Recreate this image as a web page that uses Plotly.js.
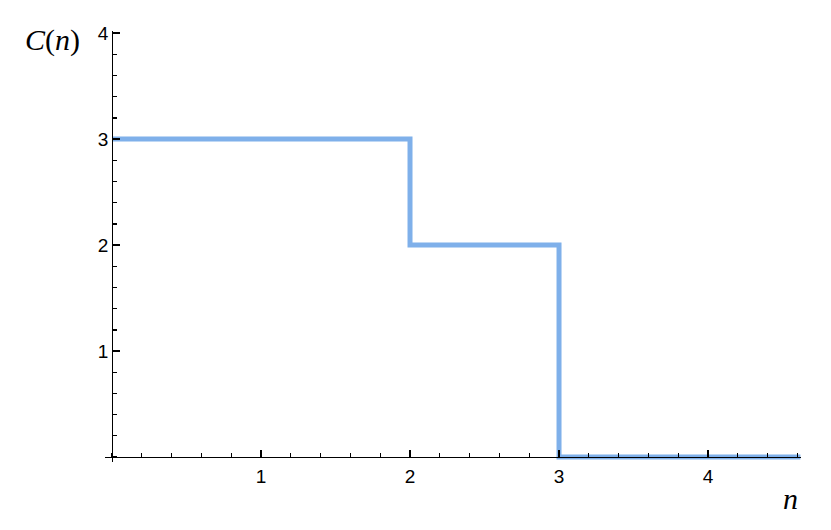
<!DOCTYPE html>
<html>
<head>
<meta charset="utf-8">
<script src="https://cdn.plot.ly/plotly-3.0.1.min.js"></script>
<style>
  html, body { margin: 0; padding: 0; background: #fff; }
  #chart { width: 831px; height: 530px; }
</style>
</head>
<body>
<div id="chart"></div>
<script>
// step function C(n)
const nValues = [0, 2, 3, 4.62];
const cValues = [3, 2, 0, 0];
const xTickVals = [1, 2, 3, 4];
const yTickVals = [1, 2, 3, 4];

const xRange = [-0.047, 4.624];
const yRange = [-0.047, 4.02];

const trace = {
    x: nValues,
    y: cValues,
    type: 'scatter',
    mode: 'lines',
    line: { shape: 'hv', color: '#7fb0ea', width: 5 },
    hoverinfo: 'skip'
};

const tickFont = { family: 'Arial', size: 19, color: '#000' };
const titleFont = { family: 'Liberation Serif, Times New Roman, serif', size: 30, color: '#000' };

const layout = {
    width: 831,
    height: 530,
    margin: { l: 105, r: 30, t: 31, b: 68 },
    paper_bgcolor: 'white',
    plot_bgcolor: 'white',
    showlegend: false,
    font: { family: 'Arial', size: 19, color: '#000' },
    xaxis: {
        range: xRange,
        anchor: 'free',
        position: (0 - yRange[0]) / (yRange[1] - yRange[0]),
        showline: true,
        linecolor: '#000',
        linewidth: 1.3,
        showgrid: false,
        zeroline: false,
        tickmode: 'array',
        tickvals: xTickVals,
        ticks: 'inside',
        ticklen: 7,
        tickwidth: 1.3,
        tickcolor: '#000',
        tickfont: tickFont,
        ticklabelstandoff: 2,
        minor: { tickmode: 'linear', tick0: 0, dtick: 0.2, ticks: 'inside', ticklen: 4, tickwidth: 1.3, tickcolor: '#000' }
    },
    yaxis: {
        range: yRange,
        anchor: 'free',
        position: (0 - xRange[0]) / (xRange[1] - xRange[0]),
        showline: true,
        linecolor: '#000',
        linewidth: 1.3,
        showgrid: false,
        zeroline: false,
        tickmode: 'array',
        tickvals: yTickVals,
        ticks: 'inside',
        ticklen: 7,
        tickwidth: 1.3,
        tickcolor: '#000',
        tickfont: tickFont,
        minor: { tickmode: 'linear', tick0: 0, dtick: 0.2, ticks: 'inside', ticklen: 4, tickwidth: 1.3, tickcolor: '#000' }
    },
    annotations: [
        {
            text: '<i>C</i>(<i>n</i>)',
            xref: 'paper', yref: 'paper',
            x: -0.075, y: 0.98,
            xanchor: 'center', yanchor: 'middle',
            showarrow: false,
            font: titleFont
        },
        {
            text: '<i>n</i>',
            xref: 'paper', yref: 'paper',
            x: 0.985, y: -0.085,
            xanchor: 'center', yanchor: 'middle',
            showarrow: false,
            font: titleFont
        }
    ]
};

Plotly.newPlot('chart', [trace], layout, { displayModeBar: false, staticPlot: true });
</script>
</body>
</html>
